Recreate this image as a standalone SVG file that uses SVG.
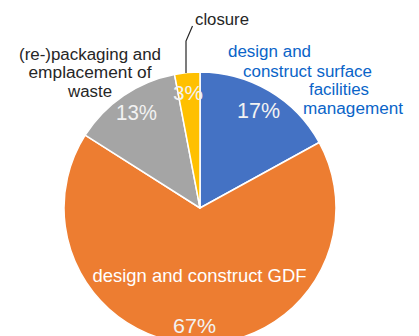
<svg xmlns="http://www.w3.org/2000/svg" width="419" height="336" viewBox="0 0 419 336">
<style>
.slice{stroke:#fff;stroke-width:1.5;stroke-linejoin:round}
.lbl{font-family:"Liberation Sans",Arial,sans-serif;font-size:16px}
.dark{fill:#262626}
.blue{fill:#0A64C8}
.pct{font-family:"Liberation Sans",Arial,sans-serif;fill:#F2F2F2}
.in{font-family:"Liberation Sans",Arial,sans-serif;fill:#FFFFFF}
</style>
<rect width="419" height="336" fill="#fff"/>
<g id="slice-surface"><path class="slice" fill="#4472C4" d="M200,208 L200,72 A136,136 0 0 1 319.18,142.48 Z"/></g>
<g id="slice-gdf"><path class="slice" fill="#ED7D31" d="M200,208 L319.18,142.48 A136,136 0 1 1 85.17,135.13 Z"/></g>
<g id="slice-packaging"><path class="slice" fill="#A5A5A5" d="M200,208 L85.17,135.13 A136,136 0 0 1 174.51,74.41 Z"/></g>
<g id="slice-closure"><path class="slice" fill="#FFC000" d="M200,208 L174.51,74.41 A136,136 0 0 1 200,72 Z"/></g>
<g id="connectors">
<polyline points="192.5,26 186,41 186,73" fill="none" stroke="#262626" stroke-width="1.2"/>
</g>
<g id="label-closure"><text class="lbl dark" x="195" y="25" textLength="54" lengthAdjust="spacingAndGlyphs">closure</text></g>
<g id="label-packaging" class="lbl dark" text-anchor="middle">
<text x="90" y="60" textLength="142" lengthAdjust="spacingAndGlyphs">(re-)packaging and</text>
<text x="90" y="78" textLength="123" lengthAdjust="spacingAndGlyphs">emplacement of</text>
<text x="90" y="96.5" textLength="44" lengthAdjust="spacingAndGlyphs">waste</text>
</g>
<g id="label-surface" class="lbl blue">
<text x="228" y="57" textLength="83" lengthAdjust="spacingAndGlyphs">design and</text>
<text x="243" y="77" textLength="129" lengthAdjust="spacingAndGlyphs">construct surface</text>
<text x="309" y="95" textLength="60" lengthAdjust="spacingAndGlyphs">facilities</text>
<text x="303" y="114" textLength="100" lengthAdjust="spacingAndGlyphs">management</text>
</g>
<g id="pct-labels" class="pct">
<text x="237" y="118" font-size="22" textLength="43" lengthAdjust="spacingAndGlyphs">17%</text>
<text x="116" y="120" font-size="22" textLength="41" lengthAdjust="spacingAndGlyphs">13%</text>
<text x="173" y="99.5" font-size="20" textLength="30" lengthAdjust="spacingAndGlyphs">3%</text>
<text x="173" y="333" font-size="21" textLength="43" lengthAdjust="spacingAndGlyphs">67%</text>
</g>
<g id="label-gdf"><text class="in" x="92.5" y="281.5" font-size="18.5" textLength="214" lengthAdjust="spacingAndGlyphs">design and construct GDF</text></g>
</svg>
